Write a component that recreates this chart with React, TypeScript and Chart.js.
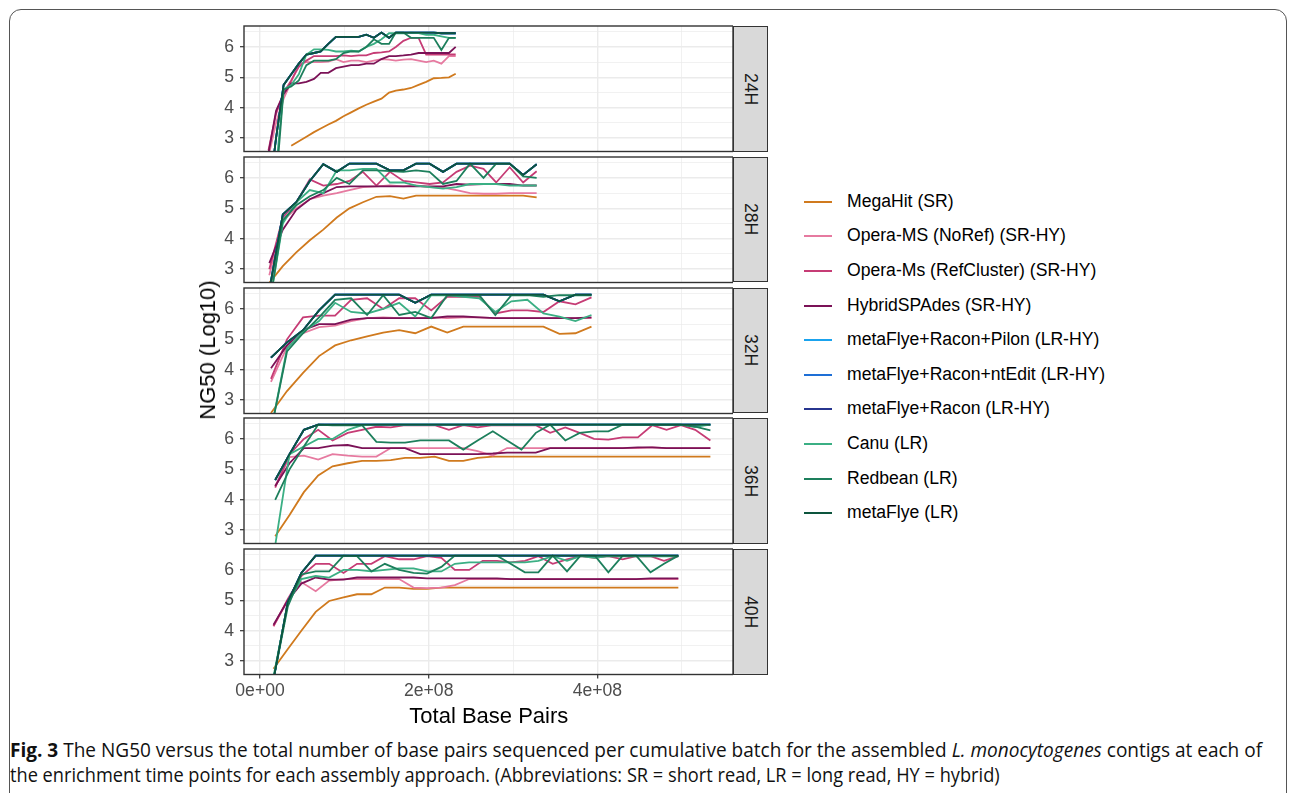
import React, { useEffect, useLayoutEffect, useRef } from "react";
import { Chart, registerables } from "chart.js";
Chart.register(...registerables);

const FONT = '"Liberation Sans", Arial, Helvetica, sans-serif';

// ---------- legend / series ----------
const seriesNames = [
  "MegaHit (SR)",
  "Opera-MS (NoRef) (SR-HY)",
  "Opera-Ms (RefCluster) (SR-HY)",
  "HybridSPAdes (SR-HY)",
  "metaFlye+Racon+Pilon (LR-HY)",
  "metaFlye+Racon+ntEdit (LR-HY)",
  "metaFlye+Racon (LR-HY)",
  "Canu (LR)",
  "Redbean (LR)",
  "metaFlye (LR)",
];
const seriesColors = [
  "#D07A1E",
  "#E67AA0",
  "#C63C75",
  "#7B1257",
  "#1AA3EE",
  "#1E6FD6",
  "#27358F",
  "#3BAF84",
  "#1D7F5C",
  "#0D553D",
];

const panelLabels = ["24H", "28H", "32H", "36H", "40H"];

// ---------- axes ----------
const xTicks = [0, 1e8, 2e8, 3e8, 4e8, 5e8];
const xMajorTicks = [0, 2e8, 4e8];
const xTickLabels = ["0e+00", "2e+08", "4e+08"];
const yTicks = [3, 3.5, 4, 4.5, 5, 5.5, 6, 6.5];
const yMajorTicks = [3, 4, 5, 6];
const yTickLabels = ["3", "4", "5", "6"];
const X_MIN = -1.9e7;
const X_MAX = 5.608e8;
const Y_MIN = 2.5625;
const Y_MAX = 6.6875;

// ---------- data: total base pairs (millions) per cumulative batch ----------
const x24 = [10, 19, 28, 37, 46, 55, 64, 72, 81, 90, 99, 108, 117, 126, 135, 144, 153, 161, 170, 179, 188, 197, 206, 215, 224, 232];
const megahit24 = [null, null, null, 2.75, 2.9, 3.05, 3.2, 3.32, 3.45, 3.57, 3.72, 3.85, 3.98, 4.1, 4.2, 4.3, 4.5, 4.56, 4.6, 4.65, 4.75, 4.85, 4.97, 4.98, 5.0, 5.12];
const noref24 = [2.4, 3.5, 4.3, 4.85, 5.45, 5.5, 5.5, 5.5, 5.52, 5.6, 5.5, 5.55, 5.55, 5.5, 5.55, 5.6, 5.58, 5.55, 5.58, 5.6, 5.55, 5.5, 5.55, 5.45, 5.7, 5.7];
const refclu24 = [2.6, 3.8, 4.5, 4.9, 5.35, 5.55, 5.7, 5.7, 5.7, 5.7, 5.72, 5.7, 5.72, 5.72, 5.8, 5.82, 5.85, 6.0, 6.2, 6.3, 6.3, 5.75, 5.75, 5.75, 5.75, 5.75];
const hybrid24 = [2.5, 3.9, 4.45, 4.8, 4.8, 4.85, 4.95, 5.15, 5.15, 5.3, 5.35, 5.4, 5.4, 5.45, 5.45, 5.6, 5.7, 5.7, 5.72, 5.75, 5.8, 5.8, 5.8, 5.8, 5.8, 6.0];
const canu24 = [1.0, 2.0, 4.6, 4.75, 5.1, 5.75, 5.92, 5.92, 5.9, 5.85, 5.85, 5.88, 5.85, 6.0, 6.1, 6.25, 6.45, 6.45, 6.45, 6.47, 6.45, 6.4, 6.4, 6.35, 6.3, 6.3];
const redbean24 = [1.0, 1.5, 4.6, 4.7, 4.9, 5.4, 5.55, 5.55, 5.55, 5.6, 5.8, 5.85, 5.85, 6.0, 6.25, 6.1, 6.1, 6.47, 6.47, 6.3, 6.3, 6.3, 6.3, 5.9, 6.3, 6.3];
const flye24 = [1.0, 3.0, 4.75, 5.1, 5.45, 5.75, 5.8, 5.85, 6.1, 6.33, 6.33, 6.33, 6.33, 6.4, 6.3, 6.47, 6.3, 6.47, 6.47, 6.47, 6.47, 6.47, 6.47, 6.45, 6.45, 6.45];

const x28 = [11, 27, 43, 59, 75, 91, 106, 122, 138, 154, 170, 185, 201, 217, 233, 249, 265, 280, 296, 312, 328];
const megahit28 = [2.55, 3.1, 3.55, 3.95, 4.3, 4.7, 5.0, 5.2, 5.38, 5.4, 5.32, 5.42, 5.42, 5.42, 5.42, 5.42, 5.42, 5.42, 5.42, 5.42, 5.36];
const noref28 = [2.8, 4.6, 5.0, 5.3, 5.42, 5.5, 5.6, 5.7, 5.72, 5.75, 5.72, 5.75, 5.7, 5.68, 5.6, 5.5, 5.48, 5.48, 5.5, 5.5, 5.5];
const refclu28 = [3.0, 4.7, 5.2, 5.95, 5.75, 5.8, 5.9, 6.2, 5.75, 6.2, 5.9, 5.85, 5.8, 5.85, 6.2, 6.4, 6.3, 5.85, 6.35, 5.85, 6.22];
const hybrid28 = [3.2, 4.3, 4.95, 5.3, 5.5, 5.7, 5.72, 5.72, 5.72, 5.72, 5.72, 5.72, 5.72, 5.72, 5.8, 5.78, 5.8, 5.8, 5.8, 5.75, 5.75];
const canu28 = [1.8, 4.5, 5.2, 5.6, 5.5, 6.25, 6.25, 6.3, 6.3, 5.85, 5.85, 5.75, 5.7, 5.65, 5.7, 5.8, 5.8, 5.8, 5.75, 5.75, 5.75];
const redbean28 = [1.8, 4.6, 5.1, 5.4, 5.6, 6.0, 5.8, 6.25, 6.25, 6.22, 6.2, 6.25, 6.2, 5.8, 5.9, 6.47, 6.0, 6.47, 6.47, 6.05, 6.0];
const flye28 = [2.3, 4.8, 5.2, 5.9, 6.45, 6.2, 6.47, 6.47, 6.47, 6.25, 6.25, 6.47, 6.47, 6.2, 6.47, 6.47, 6.47, 6.47, 6.47, 6.1, 6.45];

const x32 = [13, 32, 51, 70, 89, 108, 127, 146, 165, 184, 203, 222, 241, 260, 279, 298, 317, 336, 355, 374, 393];
const megahit32 = [2.58, 3.3, 3.9, 4.45, 4.8, 4.97, 5.1, 5.22, 5.3, 5.2, 5.42, 5.22, 5.42, 5.42, 5.42, 5.42, 5.42, 5.42, 5.18, 5.2, 5.42];
const noref32 = [3.6, 4.75, 5.2, 5.4, 5.45, 5.6, 5.7, 5.72, 5.7, 5.7, 5.72, 5.7, 5.72, 5.72, 5.7, 5.7, 5.7, 5.7, 5.7, 5.7, 5.7];
const refclu32 = [3.7, 5.0, 5.72, 5.78, 5.78, 6.3, 6.35, 6.0, 6.35, 6.35, 5.95, 6.4, 6.4, 6.4, 5.85, 5.95, 5.95, 5.9, 6.25, 6.15, 6.38];
const hybrid32 = [4.05, 4.8, 5.3, 5.5, 5.5, 5.65, 5.7, 5.7, 5.7, 5.7, 5.7, 5.75, 5.75, 5.72, 5.7, 5.7, 5.7, 5.7, 5.7, 5.7, 5.72];
const canu32 = [2.0, 4.7, 5.25, 5.6, 6.2, 5.9, 5.85, 6.0, 6.2, 5.75, 6.45, 6.45, 6.4, 6.35, 5.9, 6.25, 6.3, 5.85, 5.75, 5.6, 5.8];
const redbean32 = [2.0, 4.6, 5.2, 5.72, 6.3, 6.35, 5.8, 6.45, 5.8, 5.9, 5.7, 6.45, 6.45, 6.45, 5.8, 6.45, 6.45, 6.4, 6.45, 6.45, 6.45];
const flye32 = [4.4, 4.9, 5.3, 5.95, 6.47, 6.47, 6.47, 6.47, 6.47, 6.2, 6.47, 6.47, 6.47, 6.47, 6.47, 6.47, 6.47, 6.47, 6.25, 6.47, 6.47];

const x36 = [18, 35, 52, 69, 86, 104, 121, 138, 155, 172, 190, 207, 224, 241, 258, 276, 293, 310, 327, 344, 362, 379, 396, 413, 430, 448, 465, 482, 499, 516, 534];
const megahit36 = [2.8, 3.5, 4.25, 4.8, 5.1, 5.2, 5.28, 5.28, 5.3, 5.38, 5.38, 5.42, 5.28, 5.28, 5.38, 5.42, 5.42, 5.42, 5.42, 5.42, 5.42, 5.42, 5.42, 5.42, 5.42, 5.42, 5.42, 5.42, 5.42, 5.42, 5.42];
const noref36 = [4.45, 5.4, 5.45, 5.32, 5.5, 5.45, 5.42, 5.42, 5.7, 5.7, 5.7, 5.7, 5.7, 5.7, 5.6, 5.45, 5.7, 5.7, 5.7, 5.7, 5.7, 5.7, 5.7, 5.7, 5.7, 5.7, 5.72, 5.7, 5.7, 5.7, 5.7];
const refclu36 = [4.4, 5.5, 6.0, 6.3, 5.95, 6.2, 6.3, 6.4, 6.38, 6.45, 6.45, 6.45, 6.3, 6.45, 6.38, 6.45, 6.45, 6.45, 6.45, 6.2, 6.38, 6.2, 6.0, 5.98, 6.05, 6.05, 6.45, 6.3, 6.45, 6.3, 5.95];
const hybrid36 = [4.45, 5.2, 5.7, 5.7, 5.78, 5.8, 5.7, 5.7, 5.7, 5.7, 5.5, 5.5, 5.5, 5.5, 5.5, 5.52, 5.55, 5.55, 5.55, 5.7, 5.7, 5.7, 5.7, 5.7, 5.7, 5.72, 5.72, 5.7, 5.7, 5.7, 5.7];
const canu36 = [2.5, 5.5, 5.75, 6.0, 6.0, 6.3, 6.45, 6.47, 6.47, 6.47, 6.47, 6.47, 6.47, 6.47, 6.47, 6.47, 6.47, 6.47, 6.47, 6.47, 6.47, 6.47, 6.47, 6.47, 6.47, 6.47, 6.47, 6.47, 6.47, 6.4, 6.47];
const redbean36 = [4.0, 5.0, 5.75, 6.47, 6.45, 6.45, 6.45, 5.9, 5.88, 5.88, 5.95, 5.95, 5.95, 5.65, 5.95, 6.25, 5.95, 5.65, 6.2, 6.47, 5.95, 6.2, 6.25, 6.25, 6.47, 6.47, 6.47, 6.47, 6.47, 6.4, 6.28];
const flye36 = [4.65, 5.5, 6.3, 6.47, 6.47, 6.47, 6.47, 6.47, 6.47, 6.47, 6.47, 6.47, 6.47, 6.47, 6.47, 6.47, 6.47, 6.47, 6.47, 6.47, 6.47, 6.47, 6.47, 6.47, 6.47, 6.47, 6.47, 6.47, 6.47, 6.47, 6.47];

const x40 = [16, 33, 49, 66, 82, 99, 115, 132, 148, 165, 182, 198, 215, 231, 248, 264, 281, 297, 314, 330, 347, 364, 380, 397, 413, 430, 446, 463, 479, 496];
const megahit40 = [2.75, 3.4, 4.0, 4.62, 4.98, 5.1, 5.2, 5.2, 5.42, 5.42, 5.38, 5.38, 5.42, 5.42, 5.42, 5.42, 5.42, 5.42, 5.42, 5.42, 5.42, 5.42, 5.42, 5.42, 5.42, 5.42, 5.42, 5.42, 5.42, 5.42];
const noref40 = [4.15, 5.0, 5.6, 5.3, 5.65, 5.7, 5.7, 5.7, 5.7, 5.7, 5.42, 5.4, 5.42, 5.5, 5.7, 5.7, 5.7, 5.7, 5.7, 5.7, 5.7, 5.7, 5.7, 5.7, 5.7, 5.7, 5.7, 5.7, 5.7, 5.7];
const refclu40 = [4.15, 5.05, 5.8, 6.2, 6.2, 5.9, 6.2, 6.2, 6.45, 6.35, 6.35, 6.45, 6.4, 6.0, 6.0, 6.3, 6.3, 6.25, 6.3, 6.45, 6.2, 6.35, 6.45, 6.4, 6.45, 6.35, 6.45, 6.45, 6.3, 6.45];
const hybrid40 = [4.2, 5.0, 5.55, 5.75, 5.68, 5.68, 5.75, 5.75, 5.75, 5.75, 5.75, 5.72, 5.72, 5.72, 5.72, 5.72, 5.72, 5.7, 5.7, 5.7, 5.7, 5.7, 5.7, 5.7, 5.7, 5.7, 5.7, 5.72, 5.72, 5.72];
const canu40 = [2.5, 4.9, 5.7, 5.8, 5.75, 6.0, 6.0, 5.95, 6.0, 6.05, 6.05, 5.95, 5.95, 6.2, 6.25, 6.25, 6.25, 6.25, 6.25, 6.3, 6.45, 6.3, 6.45, 6.4, 6.45, 6.45, 6.45, 6.45, 6.45, 6.45];
const redbean40 = [2.4, 4.8, 5.85, 5.95, 5.95, 6.47, 6.45, 5.95, 6.2, 6.0, 5.9, 5.88, 6.1, 6.47, 6.47, 6.47, 6.47, 6.2, 5.92, 5.92, 6.47, 5.95, 6.47, 6.47, 5.92, 6.47, 6.47, 5.92, 6.2, 6.47];
const flye40 = [2.4, 4.95, 5.9, 6.47, 6.47, 6.47, 6.47, 6.47, 6.47, 6.47, 6.47, 6.47, 6.47, 6.47, 6.47, 6.47, 6.47, 6.47, 6.47, 6.47, 6.47, 6.47, 6.47, 6.47, 6.47, 6.47, 6.47, 6.47, 6.47, 6.47];

// metaFlye+Racon(+Pilon/ntEdit) coincide with metaFlye and are drawn underneath it
const panelX = [x24, x28, x32, x36, x40];
const panelSeries = [
  [megahit24, noref24, refclu24, hybrid24, flye24, flye24, flye24, canu24, redbean24, flye24],
  [megahit28, noref28, refclu28, hybrid28, flye28, flye28, flye28, canu28, redbean28, flye28],
  [megahit32, noref32, refclu32, hybrid32, flye32, flye32, flye32, canu32, redbean32, flye32],
  [megahit36, noref36, refclu36, hybrid36, flye36, flye36, flye36, canu36, redbean36, flye36],
  [megahit40, noref40, refclu40, hybrid40, flye40, flye40, flye40, canu40, redbean40, flye40],
];

// ---------- layout ----------
const PANEL_TOPS = [26, 156.8, 287.6, 418.4, 549.2];
const PANEL_H = 125.5;
const PLOT_LEFT = 244.3;
const PLOT_RIGHT = 733.3;
const STRIP_W = 34.4;
const Y_AXIS_W = 44;
const X_AXIS_H = 30;

const panelBorder = {
  id: "panelBorder",
  afterDraw(chart: any) {
    const { ctx, chartArea: a } = chart;
    ctx.save();
    ctx.strokeStyle = "#333333";
    ctx.lineWidth = 1.4;
    ctx.strokeRect(a.left, a.top, a.right - a.left, a.bottom - a.top);
    ctx.restore();
  },
};

function zeroPadding(s: any) {
  s.paddingTop = 0;
  s.paddingBottom = 0;
  s.paddingLeft = 0;
  s.paddingRight = 0;
}

function Panel({ idx }: { idx: number }) {
  const ref = useRef<HTMLCanvasElement | null>(null);
  const isLast = idx === panelLabels.length - 1;
  useEffect(() => {
    const xs = panelX[idx];
    const series = panelSeries[idx];
    const datasets = seriesNames.map((name, i) => ({
      label: name,
      data: xs.map((x, j) => ({ x: x * 1e6, y: series[i][j] })),
      borderColor: seriesColors[i],
      backgroundColor: seriesColors[i],
      borderWidth: 1.8,
      pointRadius: 0,
      pointHoverRadius: 0,
      tension: 0,
      spanGaps: false,
      order: seriesNames.length - 1 - i,
    }));
    const tickFont = { family: FONT, size: 17.6 };
    const chart = new Chart(ref.current as HTMLCanvasElement, {
      type: "line",
      data: { datasets },
      plugins: [panelBorder],
      options: {
        animation: false,
        responsive: true,
        maintainAspectRatio: false,
        devicePixelRatio: 1,
        events: [],
        layout: { padding: { top: 4, bottom: 4.5, left: 0, right: 0 } },
        plugins: { legend: { display: false }, tooltip: { enabled: false }, title: { display: false } },
        scales: {
          x: {
            type: "linear",
            min: X_MIN,
            max: X_MAX,
            afterBuildTicks: (s: any) => {
              s.ticks = xTicks.map((v) => ({ value: v }));
            },
            afterFit: (s: any) => {
              s.height = isLast ? X_AXIS_H : 0;
              zeroPadding(s);
            },
            border: { display: false },
            grid: {
              color: "#EBEBEB",
              lineWidth: (c: any) => (xMajorTicks.includes(c.tick?.value) ? 1.4 : 0.7),
              drawTicks: isLast,
              tickLength: 4,
              tickWidth: 1.2,
              tickColor: (c: any) => (xMajorTicks.includes(c.tick?.value) ? "#333333" : "rgba(0,0,0,0)"),
            },
            ticks: {
              display: isLast,
              autoSkip: false,
              maxRotation: 0,
              minRotation: 0,
              padding: 2,
              color: "#4D4D4D",
              font: tickFont,
              callback: (v: any) => {
                const k = xMajorTicks.indexOf(Number(v));
                return k >= 0 ? xTickLabels[k] : "";
              },
            },
          },
          y: {
            type: "linear",
            min: Y_MIN,
            max: Y_MAX,
            afterBuildTicks: (s: any) => {
              s.ticks = yTicks.map((v) => ({ value: v }));
            },
            afterFit: (s: any) => {
              s.width = Y_AXIS_W;
              zeroPadding(s);
            },
            border: { display: false },
            grid: {
              color: "#EBEBEB",
              lineWidth: (c: any) => (yMajorTicks.includes(c.tick?.value) ? 1.4 : 0.7),
              drawTicks: true,
              tickLength: 4,
              tickWidth: 1.2,
              tickColor: (c: any) => (yMajorTicks.includes(c.tick?.value) ? "#333333" : "rgba(0,0,0,0)"),
            },
            ticks: {
              autoSkip: false,
              padding: 6,
              color: "#4D4D4D",
              font: tickFont,
              callback: (v: any) => {
                const k = yMajorTicks.indexOf(Number(v));
                return k >= 0 ? yTickLabels[k] : "";
              },
            },
          },
        },
      },
    } as any);
    return () => chart.destroy();
  }, [idx]);

  const top = PANEL_TOPS[idx] - 4;
  const height = isLast ? 134 + X_AXIS_H : 134;
  return (
    <>
      <div
        style={{
          position: "absolute",
          left: PLOT_LEFT - Y_AXIS_W,
          top,
          width: PLOT_RIGHT - (PLOT_LEFT - Y_AXIS_W),
          height,
        }}
      >
        <canvas ref={ref} />
      </div>
      <div
        style={{
          position: "absolute",
          left: PLOT_RIGHT,
          top: PANEL_TOPS[idx],
          width: STRIP_W,
          height: PANEL_H,
          boxSizing: "border-box",
          border: "1.4px solid #333333",
          background: "#D9D9D9",
          display: "flex",
          alignItems: "center",
          justifyContent: "center",
        }}
      >
        <span style={{ writingMode: "vertical-rl", fontFamily: FONT, fontSize: 17.6, color: "#1A1A1A", lineHeight: 1 }}>
          {panelLabels[idx]}
        </span>
      </div>
    </>
  );
}

function CaptionLine({ target, top, children }: { target: number; top: number; children: any }) {
  const ref = useRef<HTMLDivElement | null>(null);
  useLayoutEffect(() => {
    const el = ref.current;
    if (!el) return;
    el.style.transform = "none";
    const w = el.scrollWidth;
    if (w > 0) el.style.transform = `scaleX(${target / w})`;
  }, [target]);
  return (
    <div
      ref={ref}
      style={{
        position: "absolute",
        left: 10,
        top,
        whiteSpace: "nowrap",
        transformOrigin: "0 0",
        fontFamily: '"Open Sans", "Noto Sans", sans-serif',
        fontSize: 19.5,
        lineHeight: "24px",
        color: "#111",
        display: "inline-block",
      }}
    >
      {children}
    </div>
  );
}

export default function App() {
  useEffect(() => {
    document.body.style.margin = "0";
    document.body.style.background = "#ffffff";
  }, []);
  const LEG_TOP = 201.7;
  const LEG_STEP = 34.6;
  return (
    <div style={{ position: "absolute", left: 0, top: 0, width: 1290, height: 793, overflow: "hidden", background: "#fff" }}>
      <div
        style={{
          position: "absolute",
          left: 9,
          top: 9,
          width: 1278,
          height: 830,
          border: "1.2px solid #555",
          borderRadius: 12,
          boxSizing: "border-box",
        }}
      />
      {panelLabels.map((_, i) => (
        <Panel key={i} idx={i} />
      ))}
      <div
        style={{
          position: "absolute",
          left: 208,
          top: 350,
          transform: "translate(-50%, -50%) rotate(-90deg)",
          whiteSpace: "nowrap",
          fontFamily: FONT,
          fontSize: 22,
          color: "#000",
          lineHeight: 1,
        }}
      >
        NG50 (Log10)
      </div>
      <div
        style={{
          position: "absolute",
          left: (PLOT_LEFT + PLOT_RIGHT) / 2,
          top: 716,
          transform: "translate(-50%, -50%)",
          whiteSpace: "nowrap",
          fontFamily: FONT,
          fontSize: 22,
          color: "#000",
          lineHeight: 1,
        }}
      >
        Total Base Pairs
      </div>
      {seriesNames.map((name, i) => (
        <React.Fragment key={name}>
          <div
            style={{
              position: "absolute",
              left: 804,
              top: LEG_TOP + i * LEG_STEP - 1,
              width: 28,
              height: 2,
              background: seriesColors[i],
            }}
          />
          <div
            style={{
              position: "absolute",
              left: 847,
              top: LEG_TOP + i * LEG_STEP,
              transform: "translateY(-50%)",
              whiteSpace: "nowrap",
              fontFamily: FONT,
              fontSize: 17.6,
              color: "#000",
              lineHeight: 1,
            }}
          >
            {name}
          </div>
        </React.Fragment>
      ))}
      <CaptionLine target={1252} top={738}>
        <b>Fig. 3</b> The NG50 versus the total number of base pairs sequenced per cumulative batch for the assembled{" "}
        <i>L. monocytogenes</i> contigs at each of
      </CaptionLine>
      <CaptionLine target={990} top={763}>
        the enrichment time points for each assembly approach. (Abbreviations: SR = short read, LR = long read, HY = hybrid)
      </CaptionLine>
    </div>
  );
}
